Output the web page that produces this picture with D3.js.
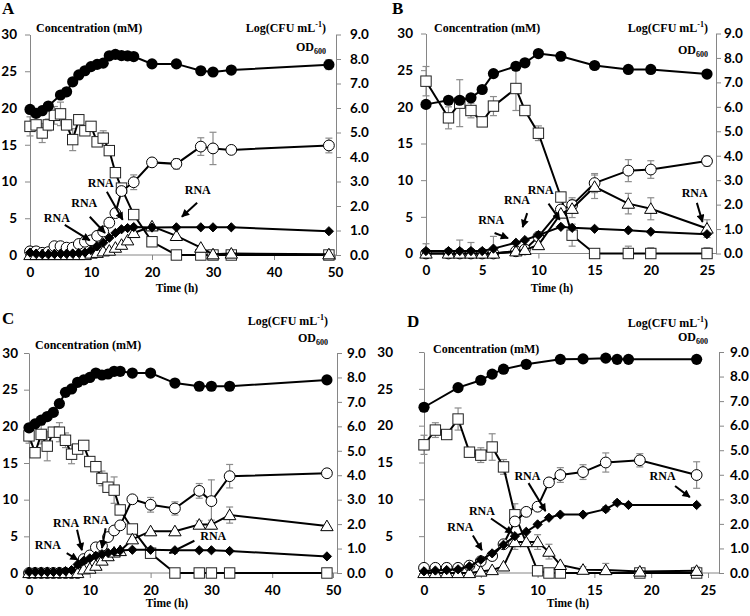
<!DOCTYPE html>
<html>
<head>
<meta charset="utf-8">
<script src="https://cdn.jsdelivr.net/npm/d3@7"></script>
<style>
  body { margin: 0; background: #fff; }
  svg { display: block; }
  .tick text { font-family: Lato, "Open Sans", sans-serif; font-weight: bold; font-size: 13.5px; fill: #000; }
  .lab, .lab tspan { font-family: "Liberation Serif", "Times New Roman", serif; font-weight: bold; fill: #000; }
</style>
</head>
<body>
<svg id="chart" width="750" height="616"></svg>
<script>
// shared ticks
const concTicks = [0, 5, 10, 15, 20, 25, 30];
const cfuTicks = [0, 1, 2, 3, 4, 5, 6, 7, 8, 9];

// ---- panel A ----
const timesA = [0,1,2,3,4,5,6,7,8,9,10,11,12,13,14,15,16,17,20,24,28,30,33,49];
const cfuA  = [5.94,5.78,5.89,6.08,null,6.53,6.66,7.07,7.35,7.52,7.69,7.78,7.83,8.13,8.19,8.14,8.13,8.10,7.80,7.80,7.52,7.47,7.55,7.77];
const subA  = [17.5,17.7,16.6,17.7,19.0,19.2,17.7,15.7,18.4,16.9,17.5,15.4,15.9,14.2,11.2,9.1,null,5.5,1.8,0,0,0,0,0];
const prodA = [0.5,0.5,0.3,0.4,1.2,1.2,1.0,1.0,1.5,1.8,2.0,2.6,3.2,4.4,5.7,8.7,null,9.9,12.6,12.4,14.75,14.5,14.3,14.9];
const triA  = [0,0,0,0,0,0,0,0,0,0,0.2,0.3,0.5,0.6,1.0,1.4,2.0,3.0,3.9,2.6,1.0,0.1,0.2,0.1];
const odA   = [0.10,0.05,0.03,0.03,0.04,0.05,0.05,0.06,0.08,0.10,0.20,0.35,0.50,0.70,0.90,1.05,1.10,1.14,1.12,1.13,1.13,1.13,1.13,0.97];
const cfuErrA  = [[49,0.2]];
const subErrA  = [[0,1.3],[2,1.3],[3,0.8],[4,1.2],[5,1.6],[7,1.5],[8,0.6],[12,1.0]];
const prodErrA = [[17,1.0],[24,0.7],[28,1.2],[30,2.2],[49,1.0]];
const rnaA = [[4.4,5.0, 5.7,4.1, 9.8,2.0],[8.9,7.1, 9.8,5.2, 12.3,3.0],[11.6,9.8, 12.6,8.6, 15.2,4.8],[27.5,8.8, 27.4,7.1, 24.9,5.2]];

// ---- panel B ----
const timesB = [0,2,3,4,5,6,8,8.8,10,12,13,15,18,20,25];
const cfuB  = [6.10,6.27,6.27,6.37,6.71,7.36,7.66,7.80,8.18,8.07,null,7.69,7.53,7.53,7.34];
const subB  = [23.5,18.5,20.5,19.5,17.95,20.1,22.5,19.5,16.4,7.7,2.5,0,0,0,0];
const prodB = [0,0,0,0,0,0,0.3,0.55,2.3,6.0,6.6,9.6,11.3,11.45,12.6];
const triB  = [0,0,0,0,0,0,0.3,0.5,1.15,5.45,6.1,9.1,6.8,6.1,3.4];
const odB   = [0.10,0.10,0.10,0.10,0.10,0.20,0.44,0.55,0.75,1.09,1.05,1.01,0.95,0.89,0.79];
const subErrB  = [[0,2.0],[2,1.5],[3,3.2],[4,1.0],[6,1.3],[8,3.0],[10,1.0],[13,1.5],[18,1.0],[20,0.8],[25,0.8]];
const prodErrB = [[13,1.0],[15,1.3],[18,1.5],[20,1.2],[25,0.7]];
const triErrB  = [[10,0.5],[13,1.2],[15,1.6],[18,1.4],[20,1.5],[25,1.2]];
const odErrB   = [[0,0.3],[3,0.45],[4,0.35],[6,0.5]];
const rnaB = [[5.8,4.6, 6.1,2.8, 7.3,2.1],[8.1,7.3, 9.0,5.5, 8.6,3.6],[10.2,8.7, 10.9,6.8, 11.9,4.6],[23.9,8.2, 24.1,6.9, 24.6,4.3]];

// ---- panel C ----
const timesC = [0,1,2,3,4,5,6,7,8,9,10,11,12,13,14,15,17,20,24,28,30,33,49];
const cfuC  = [5.94,6.10,6.25,6.40,6.57,6.93,7.39,7.53,7.80,7.90,8.00,8.18,8.10,8.14,8.25,8.25,8.18,8.18,7.77,7.64,7.64,7.64,7.90];
const subC  = [18.7,16.4,18.9,17.3,19.2,19.2,18.1,16.2,16.9,17.4,15.2,14.5,12.9,11.7,11.3,8.6,6.0,2.7,0,0,0,0,0];
const prodC = [0,0,0,0,0,0,0,0,0,1.9,2.4,3.5,3.7,4.9,5.8,6.5,10.05,9.3,8.8,11.2,9.8,13.2,13.6];
const triC  = [0,0,0,0,0,0,0,0,0,0.5,0.6,1.0,1.7,2.3,2.8,3.0,4.6,5.7,5.7,6.6,6.6,7.9,6.4];
const odC   = [0.05,0.05,0.05,0.05,0.05,0.06,0.08,0.12,0.35,0.50,0.60,0.70,0.77,0.82,0.87,0.92,0.95,0.95,0.93,0.93,0.93,0.90,0.68];
const cfuErrC  = [[2,0.15],[49,0.15]];
const subErrC  = [[0,1.0],[2,1.3],[3,2.0],[5,1.3],[6,1.0],[7,1.3],[9,0.5],[12,1.0],[14,1.8]];
const prodErrC = [[20,1.0],[24,0.9],[28,1.0],[30,2.9],[33,1.6]];
const triErrC  = [[28,0.5],[30,0.6],[33,1.1]];
const rnaC = [[3.1,3.8, 6.2,2.7, 8.0,1.8],[6.1,6.8, 7.9,5.9, 8.7,3.1],[11.0,7.2, 12.6,6.1, 12.0,3.4],[30.3,5.0, 27.2,4.4, 23.1,2.7]];

// ---- panel D ----
const timesD = [0,1,2,3,4,5,6,7,8,9,10,11,12,14,16,17,18,19,24];
const cfuD  = [6.75,null,null,7.55,null,7.85,8.10,8.30,null,8.50,null,null,8.70,8.72,8.75,8.70,8.70,null,8.70];
const subD  = [17.4,19.4,18.8,20.9,16.4,16.0,17.1,14.4,7.9,null,0.3,0,0,null,null,null,null,0,0];
const prodD = [0.7,0.7,0.7,0.7,1.0,1.6,2.3,3.9,7.0,8.3,9.0,12.3,13.3,13.7,15.0,null,null,15.3,13.3];
const triD  = [0,0,0,0,0,0.2,0.4,0.9,4.2,4.2,4.2,2.9,1.1,0.45,0.4,null,null,0.2,0.3];
const odD   = [0.07,0.10,0.12,0.15,0.27,0.54,0.80,1.15,1.50,1.68,1.98,2.25,2.38,2.38,2.60,2.86,2.77,null,2.77];
const subErrD  = [[0,1.3],[1,1.0],[3,1.5],[5,1.0],[6,1.8],[7,1.0],[8,1.5]];
const prodErrD = [[1,0.4],[2,0.6],[3,0.5],[4,0.6],[12,1.0],[14,1.0],[16,1.3],[19,0.9],[24,1.8]];
const triErrD  = [[8,1.0],[10,1.0],[11,1.0],[14,0.4],[16,0.9],[24,0.5]];
const odErrD   = [[16,0.1],[17,0.08]];
const rnaD = [[3.2,6.2, 4.3,5.1, 5.1,3.1],[5.1,8.4, 5.9,7.4, 7.8,5.4],[9.1,13.2, 9.2,12.2, 10.7,8.4],[21.0,13.1, 22.1,11.8, 23.4,10.3]];

// panel layout (pixels)
const panels = [
  { id: 'A', times: timesA, cfu: cfuA, sub: subA, prod: prodA, tri: triA, od: odA,
    err: { cfu: cfuErrA, sub: subErrA, prod: prodErrA, tri: [], od: [] }, rna: rnaA,
    xMax: 50, xTicks: [0,10,20,30,40,50],
    box: { x0: 30, x1: 335, xr: 336, y0: 255, y1: 34.5, lPad: 8, rPad: 9,
           letter: [2, 14], conc: [36, 32], log: [326, 32], od: [326, 51], time: [177, 292] } },
  { id: 'B', times: timesB, cfu: cfuB, sub: subB, prod: prodB, tri: triB, od: odB,
    err: { cfu: [], sub: subErrB, prod: prodErrB, tri: triErrB, od: odErrB }, rna: rnaB,
    xMax: 25, xTicks: [0,5,10,15,20,25],
    box: { x0: 426, x1: 707, xr: 716, y0: 253.5, y1: 33.5, lPad: 8, rPad: 3,
           letter: [392, 14], conc: [434, 32], log: [708, 32], od: [708, 54], time: [552, 292] } },
  { id: 'C', times: timesC, cfu: cfuC, sub: subC, prod: prodC, tri: triC, od: odC,
    err: { cfu: cfuErrC, sub: subErrC, prod: prodErrC, tri: triErrC, od: [] }, rna: rnaC,
    xMax: 50, xTicks: [0,10,20,30,40,50],
    box: { x0: 29, x1: 333, xr: 337, y0: 573, y1: 353, lPad: 6, rPad: 5,
           letter: [2, 324], conc: [35, 349], log: [328, 325], od: [328, 342], time: [167, 607] } },
  { id: 'D', times: timesD, cfu: cfuD, sub: subD, prod: prodD, tri: triD, od: odD,
    err: { cfu: [], sub: subErrD, prod: prodErrD, tri: triErrD, od: odErrD }, rna: rnaD,
    xMax: 25, xTicks: [0,5,10,15,20,25],
    box: { x0: 424, x1: 708, xr: 719, y0: 573, y1: 352, lPad: 26, rPad: 6,
           letter: [407, 327], conc: [433, 353], log: [708, 327], od: [708, 341], time: [568, 607] } }
];

const axisGray = '#868686';
const errGray = '#8c8c8c';
const svg = d3.select('#chart');

svg.append('defs').append('marker')
    .attr('id', 'arrow')
    .attr('viewBox', '0 0 10 10')
    .attr('refX', 9).attr('refY', 5)
    .attr('markerWidth', 4.5).attr('markerHeight', 4)
    .attr('orient', 'auto')
  .append('path')
    .attr('d', 'M0,0L10,5L0,10z')
    .attr('fill', '#000');

// marker shapes
const triPath = 'M0,-6L6.2,4.6L-6.2,4.6Z';
const diaPath = 'M0,-4.6L4.6,0L0,4.6L-4.6,0Z';

function drawPanel(p) {
    const b = p.box;
    const x = d3.scaleLinear().domain([0, p.xMax]).range([b.x0, b.x1]);
    const yL = d3.scaleLinear().domain([0, 30]).range([b.y0, b.y1]);
    const yR = d3.scaleLinear().domain([0, 9]).range([b.y0, b.y1]);
    const g = svg.append('g');

    // axes
    g.append('g')
        .attr('transform', `translate(${b.x0},0)`)
        .call(d3.axisLeft(yL).tickValues(concTicks).tickSize(5).tickSizeOuter(0).tickPadding(b.lPad));
    g.append('g')
        .attr('transform', `translate(${b.xr},0)`)
        .call(d3.axisRight(yR).tickValues(cfuTicks).tickFormat(d3.format('.1f')).tickSize(5).tickSizeOuter(0).tickPadding(b.rPad));
    const axB = g.append('g')
        .attr('transform', `translate(0,${b.y0})`)
        .call(d3.axisBottom(x).tickValues(p.xTicks).tickSize(5).tickPadding(7));
    axB.select('.domain').remove();
    g.append('line')
        .attr('x1', b.x0).attr('x2', b.xr)
        .attr('y1', b.y0).attr('y2', b.y0)
        .attr('stroke', axisGray);
    g.selectAll('.domain, .tick line').attr('stroke', axisGray);

    const pts = (vals) => p.times.map((t, i) => ({ t: t, v: vals[i] })).filter(d => d.v != null);

    // error bars
    function errBars(errs, vals, scale, top) {
        errs.forEach(([t, e]) => {
            const v = vals[p.times.indexOf(t)];
            if (v == null) return;
            const cx = x(t);
            const lo = scale(Math.max(0, v - e)), hi = scale(Math.min(top, v + e));
            g.append('line').attr('x1', cx).attr('x2', cx).attr('y1', lo).attr('y2', hi)
                .attr('stroke', errGray).attr('stroke-width', 1.2);
            [lo, hi].forEach(yy => {
                if (yy === b.y0) return;
                g.append('line').attr('x1', cx - 3.5).attr('x2', cx + 3.5).attr('y1', yy).attr('y2', yy)
                    .attr('stroke', errGray).attr('stroke-width', 1.2);
            });
        });
    }
    errBars(p.err.sub, p.sub, yL, 30);
    errBars(p.err.prod, p.prod, yL, 30);
    errBars(p.err.tri, p.tri, yL, 30);
    errBars(p.err.od, p.od, yR, 9);
    errBars(p.err.cfu, p.cfu, yR, 9);

    function series(vals, scale, shape) {
        const data = pts(vals);
        g.append('path')
            .datum(data)
            .attr('fill', 'none')
            .attr('stroke', '#000')
            .attr('stroke-width', 2)
            .attr('d', d3.line().x(d => x(d.t)).y(d => scale(d.v)));
        const m = g.append('g').selectAll('.mk').data(data).enter();
        if (shape === 'square') {
            m.append('rect')
                .attr('x', d => x(d.t) - 5.2).attr('y', d => scale(d.v) - 5.2)
                .attr('width', 10.4).attr('height', 10.4)
                .attr('fill', '#fff').attr('stroke', '#222').attr('stroke-width', 1);
        } else if (shape === 'open') {
            m.append('circle')
                .attr('cx', d => x(d.t)).attr('cy', d => scale(d.v)).attr('r', 5.4)
                .attr('fill', '#fff').attr('stroke', '#000').attr('stroke-width', 1);
        } else if (shape === 'filled') {
            m.append('circle')
                .attr('cx', d => x(d.t)).attr('cy', d => scale(d.v)).attr('r', 5.6)
                .attr('fill', '#000');
        } else {
            m.append('path')
                .attr('transform', d => `translate(${x(d.t)},${scale(d.v)})`)
                .attr('d', shape === 'tri' ? triPath : diaPath)
                .attr('fill', shape === 'tri' ? '#fff' : '#000')
                .attr('stroke', '#000').attr('stroke-width', 1);
        }
    }
    series(p.sub, yL, 'square');
    series(p.prod, yL, 'open');
    series(p.tri, yL, 'tri');
    series(p.od, yR, 'dia');
    series(p.cfu, yR, 'filled');

    // RNA sampling arrows
    p.rna.forEach(([tx, ty, ax1, ay1, ax2, ay2]) => {
        g.append('text').attr('class', 'lab').attr('font-size', 12)
            .attr('text-anchor', 'middle')
            .attr('x', x(tx)).attr('y', yL(ty) + 4)
            .text('RNA');
        g.append('line')
            .attr('x1', x(ax1)).attr('y1', yL(ay1))
            .attr('x2', x(ax2)).attr('y2', yL(ay2))
            .attr('stroke', '#000').attr('stroke-width', 2)
            .attr('marker-end', 'url(#arrow)');
    });

    // titles
    g.append('text').attr('class', 'lab').attr('font-size', 17)
        .attr('x', b.letter[0]).attr('y', b.letter[1]).text(p.id);
    g.append('text').attr('class', 'lab').attr('font-size', 12)
        .attr('x', b.conc[0]).attr('y', b.conc[1]).text('Concentration (mM)');
    const lt = g.append('text').attr('class', 'lab').attr('font-size', 12)
        .attr('text-anchor', 'end').attr('x', b.log[0]).attr('y', b.log[1]);
    lt.append('tspan').text('Log(CFU mL');
    lt.append('tspan').attr('font-size', 8).attr('dy', -5).text('-1');
    lt.append('tspan').attr('dy', 5).text(')');
    const ot = g.append('text').attr('class', 'lab').attr('font-size', 12)
        .attr('text-anchor', 'end').attr('x', b.od[0]).attr('y', b.od[1]);
    ot.append('tspan').text('OD');
    ot.append('tspan').attr('font-size', 8).attr('dy', 3).text('600');
    g.append('text').attr('class', 'lab').attr('font-size', 11.5)
        .attr('text-anchor', 'middle')
        .attr('x', b.time[0]).attr('y', b.time[1]).text('Time (h)');
}

panels.forEach(drawPanel);
</script>
</body>
</html>
